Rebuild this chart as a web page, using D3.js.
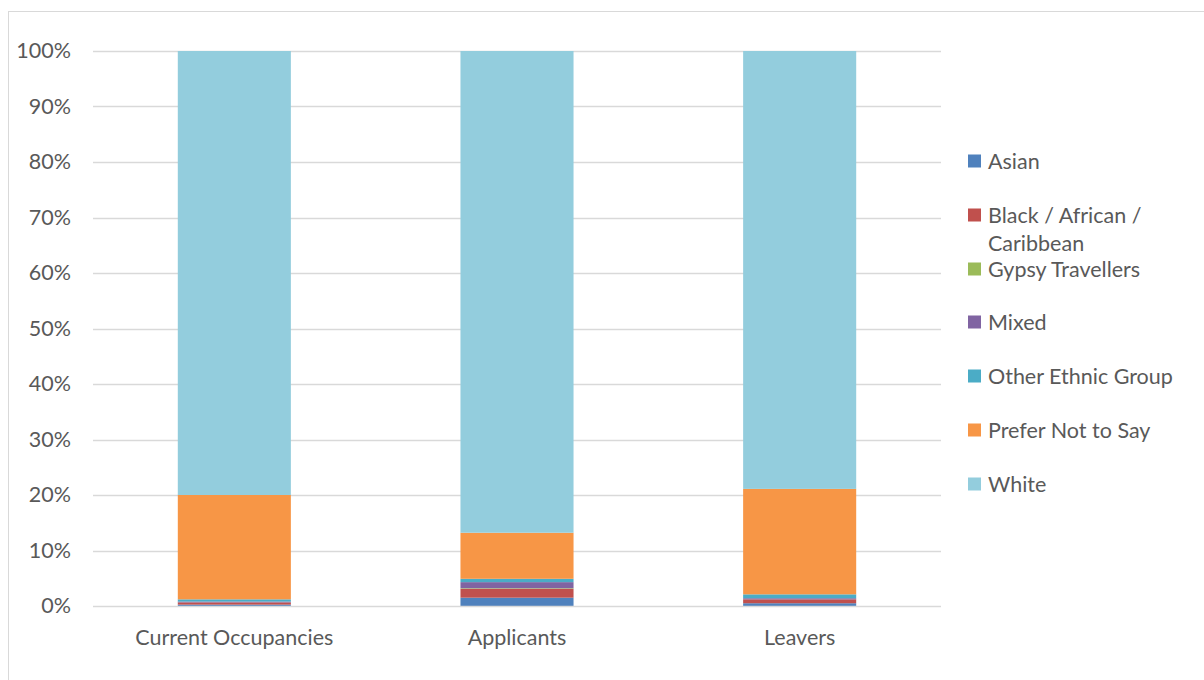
<!DOCTYPE html>
<html>
<head>
<meta charset="utf-8">
<script src="https://cdn.jsdelivr.net/npm/d3@7"></script>
<style>
  html, body { margin: 0; padding: 0; background: #fff; }
  svg { display: block; font-family: Lato, "Open Sans", sans-serif; }
</style>
</head>
<body>
<svg id="chart" width="1204" height="680"></svg>
<script>
// Stacked 100% bars: ethnic group share by housing status
const categories = ["Current Occupancies", "Applicants", "Leavers"];
const seriesNames = ["Asian", "Black / African / Caribbean", "Gypsy Travellers", "Mixed", "Other Ethnic Group", "Prefer Not to Say", "White"];
const legendLines = [["Asian"], ["Black / African /", "Caribbean"], ["Gypsy Travellers"], ["Mixed"], ["Other Ethnic Group"], ["Prefer Not to Say"], ["White"]];
const seriesColors = ["#4f81bd", "#c0504d", "#9bbb59", "#8064a2", "#4bacc6", "#f79646", "#93cddd"];

// Percent values per series, one entry per category
const asian = [0.25, 1.5, 0.5];
const black = [0.4, 1.6, 0.7];
const gypsy = [0.0, 0.1, 0.0];
const mixed = [0.15, 1.1, 0.2];
const other = [0.4, 0.6, 0.7];
const preferNot = [18.8, 8.3, 19.0];
const white = [80.0, 86.8, 78.9];
const yTicks = [0, 10, 20, 30, 40, 50, 60, 70, 80, 90, 100];

const seriesValues = [asian, black, gypsy, mixed, other, preferNot, white];
const rows = categories.map((c, i) => {
  const r = { category: c };
  seriesNames.forEach((s, k) => r[s] = seriesValues[k][i]);
  return r;
});

const FONT = 21.5;
const svg = d3.select("#chart");

// chart frame
svg.append("rect")
  .attr("x", 8.5).attr("y", 11.5)
  .attr("width", 1200).attr("height", 680)
  .attr("fill", "none").attr("stroke", "#d9d9d9");

const plot = { left: 93, right: 941, top: 51, bottom: 606 };

const x = d3.scaleBand()
  .domain(categories)
  .range([plot.left, plot.right])
  .paddingInner(0.6)
  .paddingOuter(0.3);

const y = d3.scaleLinear()
  .domain([0, 100])
  .range([plot.bottom, plot.top]);

// gridlines
svg.append("g")
  .selectAll("line")
  .data(yTicks.filter(t => t > 0))
  .join("line")
  .attr("x1", plot.left).attr("x2", plot.right)
  .attr("y1", d => Math.round(y(d)) + 0.5).attr("y2", d => Math.round(y(d)) + 0.5)
  .attr("stroke", "#d9d9d9").attr("stroke-width", 1.3);

// y axis labels
const yAxis = d3.axisLeft(y).tickValues(yTicks).tickFormat(d => d + "%").tickSize(0).tickPadding(0);
const gy = svg.append("g").attr("transform", `translate(${plot.left - 22},0)`).call(yAxis);
gy.select(".domain").remove();
gy.selectAll("text")
  .attr("fill", "#595959").attr("font-size", FONT)
  .attr("font-family", "Lato, 'Open Sans', sans-serif");

// stacked bars
const stack = d3.stack().keys(seriesNames);
const layers = stack(rows);

svg.append("g")
  .selectAll("g")
  .data(layers)
  .join("g")
  .attr("fill", (d, i) => seriesColors[i])
  .selectAll("rect")
  .data(d => d)
  .join("rect")
  .attr("x", d => x(d.data.category))
  .attr("width", x.bandwidth())
  .attr("y", d => y(d[1]))
  .attr("height", d => Math.max(0, y(d[0]) - y(d[1])));

// x axis baseline and labels
const xAxis = d3.axisBottom(x).tickSize(0).tickPadding(0);
const gx = svg.append("g").attr("transform", `translate(0,${plot.bottom})`).call(xAxis);
gx.select(".domain").attr("stroke", "#d9d9d9").attr("stroke-width", 1.5)
  .attr("d", `M${plot.left},0.5H${plot.right}`);
gx.selectAll("text")
  .attr("fill", "#595959").attr("font-size", FONT)
  .attr("dy", 0).attr("y", 39)
  .attr("font-family", "Lato, 'Open Sans', sans-serif");

// legend
const legendY = [161, 215, 269, 322, 376, 430, 484];
const legend = svg.append("g");
legendLines.forEach((lines, i) => {
  const g = legend.append("g").attr("transform", `translate(968,${legendY[i]})`);
  g.append("rect")
    .attr("x", 0).attr("y", -6.5)
    .attr("width", 13).attr("height", 13)
    .attr("fill", seriesColors[i]);
  lines.forEach((t, j) => {
    g.append("text")
      .attr("x", 20).attr("y", j * 28)
      .attr("dy", "0.35em")
      .attr("fill", "#595959").attr("font-size", FONT)
      .text(t);
  });
});
</script>
</body>
</html>
